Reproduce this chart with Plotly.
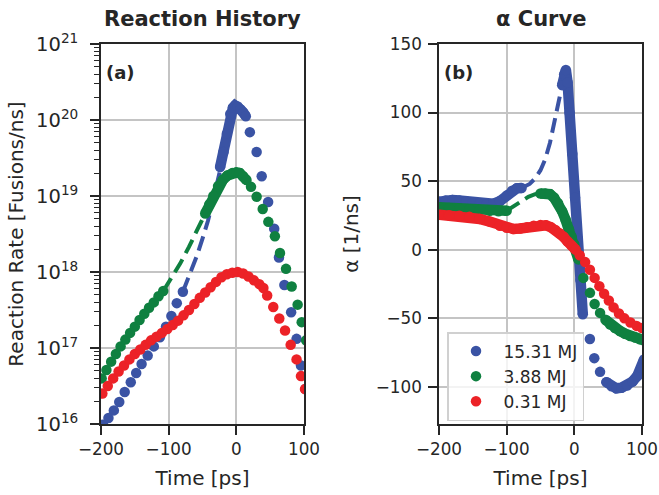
import plotly.graph_objects as go

# ---------------- DATA ----------------
# Left panel: reaction rate [fusions/ns] vs time [ps]
blue_pre_t = [-197, -189, -181, -173, -165, -156, -148, -140, -131, -122, -113, -104, -96, -88, -79]
blue_pre_v = [9.8e15, 1.20e16, 1.51e16, 1.95e16, 2.63e16, 3.55e16, 4.68e16, 6.17e16, 7.94e16, 1.05e17,
              1.38e17, 1.91e17, 2.63e17, 3.89e17, 5.50e17]
blue_dash_t = [-79, -66, -58, -50, -42, -35, -28, -21]
blue_dash_v = [5.50e17, 1.05e18, 1.66e18, 2.75e18, 4.68e18, 8.32e18, 1.48e19, 2.82e19]
blue_peak_t = [-24, -19, -14, -9, -5, -2, 2, 6, 10, 14]
blue_peak_v = [2.40e19, 3.80e19, 6.61e19, 1.20e20, 1.45e20, 1.55e20, 1.51e20, 1.38e20, 1.26e20, 1.12e20]
blue_post_t = [20, 30, 37.5, 47, 56, 63, 71, 81, 89, 95.5, 102]
blue_post_v = [6.92e19, 3.80e19, 1.82e19, 8.32e18, 3.72e18, 1.55e18, 6.76e17, 2.95e17, 1.32e17, 5.89e16, 2.88e16]

green_pre_t = [-199, -192, -185, -178, -171, -164, -157, -150, -143, -136, -129, -122, -115, -108]
green_pre_v = [3.98e16, 5.13e16, 6.61e16, 8.32e16, 1.05e17, 1.29e17, 1.58e17, 1.91e17, 2.34e17, 2.82e17,
               3.39e17, 3.98e17, 4.79e17, 5.62e17]
green_dash_t = [-108, -95, -83, -70, -58, -46]
green_dash_v = [5.62e17, 8.51e17, 1.29e18, 2.14e18, 3.55e18, 5.89e18]
green_peak_t = [-46, -40, -34, -27, -20, -13, -6, 0, 5, 10, 15]
green_peak_v = [5.89e18, 7.76e18, 1.0e19, 1.35e19, 1.62e19, 1.86e19, 2.0e19, 2.04e19, 2.0e19, 1.82e19, 1.62e19]
green_post_t = [21.7, 30, 39, 47.3, 57, 64.5, 73.4, 81.8, 90.6, 96.6, 103]
green_post_v = [1.32e19, 9.77e18, 6.76e18, 4.57e18, 2.95e18, 1.78e18, 1.10e18, 6.46e17, 3.72e17, 2.19e17, 1.26e17]

red_main_t = [-198, -190, -182, -174, -166, -158, -150, -142, -134, -126, -118, -110, -102, -94, -86,
              -78, -70, -62, -54, -46, -38, -30, -22, -14, -6, 2, 10, 18, 26, 34, 40]
red_main_v = [2.51e16, 3.16e16, 3.98e16, 4.90e16, 5.89e16, 7.08e16, 8.32e16, 9.55e16, 1.10e17, 1.26e17,
              1.41e17, 1.58e17, 1.78e17, 2.0e17, 2.29e17, 2.69e17, 3.16e17, 3.80e17, 4.57e17, 5.37e17,
              6.31e17, 7.41e17, 8.51e17, 9.33e17, 9.77e17, 1.0e18, 9.55e17, 8.71e17, 7.76e17, 6.92e17, 6.17e17]
red_post_t = [45.6, 54.6, 63.5, 72, 80.3, 89, 95.5, 101.5]
red_post_v = [4.90e17, 3.47e17, 2.45e17, 1.70e17, 1.10e17, 7.08e16, 4.27e16, 2.88e16]

# Right panel: alpha [1/ns] vs time [ps]
blue_a1_t = [-200, -190, -180, -170, -160, -150, -140, -130, -120, -110, -100, -92, -85, -78]
blue_a1_v = [35, 36, 36.3, 36, 35.3, 34.3, 33.5, 33, 33.5, 35.5, 39.5, 43, 44.8, 45]
blue_adash_t = [-78, -66, -58, -50, -43, -36, -30, -24, -18]
blue_adash_v = [45, 48, 52, 58, 66, 78, 92, 107, 120]
blue_a2_t = [-18, -15, -12.5, -10, -7, -3, 1, 5, 9, 12.5]
blue_a2_v = [120, 128, 131, 122, 100, 70, 38, 8, -22, -47]
blue_asp_t = [23, 29.5, 38, 47.5]
blue_asp_v = [-65, -79, -89, -96.5]
blue_a3_t = [47.5, 55, 62, 70, 78, 86, 93, 99, 103]
blue_a3_v = [-96.5, -99.5, -101, -100.5, -99, -96, -92, -86, -80]

green_a1_t = [-200, -185, -170, -155, -140, -125, -112, -100]
green_a1_v = [31, 30.5, 30, 29.5, 29, 28.5, 28, 28.5]
green_adash_t = [-100, -88, -78, -68, -58, -50]
green_adash_v = [28.5, 32.6, 36, 38.6, 40.5, 41]
green_a2_t = [-50, -43, -36, -30, -24, -18, -13, -8, -4, 0, 3, 6]
green_a2_v = [41, 41, 40.5, 38, 34, 28, 22, 15, 9.5, 4, -1.5, -7]
green_asp_t = [13.3, 23.1, 30, 38]
green_asp_v = [-20.5, -31.4, -39.5, -46]
green_a3_t = [46, 53, 60, 67.5, 75, 82.5, 90, 97, 103]
green_a3_v = [-51, -54.5, -57, -59.2, -61.2, -62.8, -64, -65.2, -66]

red_a1_t = [-200, -185, -170, -155, -140, -125, -110, -100, -90, -80, -70, -60, -50, -42, -35, -28,
            -22, -16, -10, -4, 2]
red_a1_v = [25.5, 25.2, 24.8, 24, 22.5, 20.5, 17.5, 16, 15.2, 15.5, 16.5, 17.5, 18, 17.8, 16.5, 14.5,
            12, 9.5, 6, 3, 0]
red_asp_t = [8, 16, 23, 30, 37, 44, 51, 58, 66, 74, 83, 92, 100]
red_asp_v = [-4, -9, -14.5, -20.5, -26.5, -32, -37, -42, -46.5, -50, -53, -55.5, -57]

labels = ["15.31 MJ", "3.88 MJ", "0.31 MJ"]
left_ticks = [1e16, 1e17, 1e18, 1e19, 1e20, 1e21]
left_ticktext = ["10<sup>16</sup>", "10<sup>17</sup>", "10<sup>18</sup>", "10<sup>19</sup>",
                 "10<sup>20</sup>", "10<sup>21</sup>"]
left_minor = [m * d for d in [1e16, 1e17, 1e18, 1e19, 1e20] for m in [2.0, 3.0, 4.0, 5.0, 6.0, 7.0, 8.0, 9.0]]
right_ticks = [-100, -50, 0, 50, 100, 150]
time_ticks = [-200, -100, 0, 100]

# ---------------- STYLE ----------------
BLUE, GREEN, RED = "#3a53a4", "#0f8040", "#ec2227"
INK = "#262626"
GRID = "#c4c4c4"
FONT = "DejaVu Sans"
MS = 10.5

fig = go.Figure()


def dots(t, v, color, xa, ya):
    fig.add_trace(go.Scatter(x=t, y=v, mode="markers", xaxis=xa, yaxis=ya,
                             marker=dict(color=color, size=MS), showlegend=False, hoverinfo="skip"))


def band(t, v, color, xa, ya):
    fig.add_trace(go.Scatter(x=t, y=v, mode="lines+markers", xaxis=xa, yaxis=ya,
                             line=dict(color=color, width=MS),
                             marker=dict(color=color, size=MS), showlegend=False, hoverinfo="skip"))


def dashed(t, v, color, xa, ya):
    fig.add_trace(go.Scatter(x=t, y=v, mode="lines", xaxis=xa, yaxis=ya,
                             line=dict(color=color, width=4, dash="15px,7px"),
                             showlegend=False, hoverinfo="skip"))


# Left panel
dots(blue_pre_t, blue_pre_v, BLUE, "x", "y")
dashed(blue_dash_t, blue_dash_v, BLUE, "x", "y")
band(blue_peak_t, blue_peak_v, BLUE, "x", "y")
dots(blue_post_t, blue_post_v, BLUE, "x", "y")

dots(green_pre_t, green_pre_v, GREEN, "x", "y")
dashed(green_dash_t, green_dash_v, GREEN, "x", "y")
band(green_peak_t, green_peak_v, GREEN, "x", "y")
dots(green_post_t, green_post_v, GREEN, "x", "y")

dots(red_main_t, red_main_v, RED, "x", "y")
dots(red_post_t, red_post_v, RED, "x", "y")

# Right panel
band(blue_a1_t, blue_a1_v, BLUE, "x2", "y2")
dashed(blue_adash_t, blue_adash_v, BLUE, "x2", "y2")
band(blue_a2_t, blue_a2_v, BLUE, "x2", "y2")
dots(blue_asp_t, blue_asp_v, BLUE, "x2", "y2")
band(blue_a3_t, blue_a3_v, BLUE, "x2", "y2")

band(green_a1_t, green_a1_v, GREEN, "x2", "y2")
dashed(green_adash_t, green_adash_v, GREEN, "x2", "y2")
band(green_a2_t, green_a2_v, GREEN, "x2", "y2")
dots(green_asp_t, green_asp_v, GREEN, "x2", "y2")
band(green_a3_t, green_a3_v, GREEN, "x2", "y2")

band(red_a1_t, red_a1_v, RED, "x2", "y2")
dots(red_asp_t, red_asp_v, RED, "x2", "y2")

# legend entries
for lab, col in zip(labels, [BLUE, GREEN, RED]):
    fig.add_trace(go.Scatter(x=[None], y=[None], mode="markers", xaxis="x2", yaxis="y2",
                             marker=dict(color=col, size=MS), name=lab, showlegend=True))

W, H = 659, 495
def px_x(p):
    return p / W
def px_y(p):
    return 1 - p / H

axis_common = dict(showline=True, mirror=True, linecolor=INK, linewidth=1.6,
                   ticks="outside", ticklen=9, tickwidth=1.5, tickcolor=INK,
                   showgrid=True, gridcolor=GRID, gridwidth=1.6, zeroline=False,
                   automargin=False)
tf = dict(family=FONT, size=16.8, color=INK)

xdom1 = [px_x(101), px_x(304)]
xdom2 = [px_x(439), px_x(642)]
ydom = [px_y(424), px_y(44)]

fig.update_layout(
    width=W, height=H, margin=dict(l=0, r=0, t=0, b=0, autoexpand=False),
    paper_bgcolor="white", plot_bgcolor="white",
    font=dict(family=FONT, color=INK),
    xaxis=dict(domain=xdom1, range=[-200, 100], tickvals=time_ticks, anchor="y", tickfont=tf,
               title=dict(text="Time [ps]", font=dict(size=20, family=FONT, color=INK), standoff=13),
               **axis_common),
    yaxis=dict(domain=ydom, type="log", range=[16, 21], tickvals=left_ticks, ticktext=left_ticktext,
               anchor="x", tickfont=dict(family=FONT, size=19.5, color=INK), ticklabelstandoff=8,
               minor=dict(tickmode="array", tickvals=left_minor, ticks="outside", ticklen=5,
                          tickwidth=1.2, tickcolor=INK, showgrid=False),
               title=dict(text="Reaction Rate [Fusions/ns]", font=dict(size=20, family=FONT, color=INK),
                          standoff=7),
               **axis_common),
    xaxis2=dict(domain=xdom2, range=[-200, 100], tickvals=time_ticks, anchor="y2", tickfont=tf,
                title=dict(text="Time [ps]", font=dict(size=20, family=FONT, color=INK), standoff=13),
                **axis_common),
    yaxis2=dict(domain=ydom, range=[-127, 150], tickvals=right_ticks, anchor="x2", tickfont=tf,
                ticklabelstandoff=3,
                title=dict(text="α [1/ns]", font=dict(size=20, family=FONT, color=INK), standoff=12),
                **axis_common),
    legend=dict(x=px_x(447), y=px_y(332), xanchor="left", yanchor="top",
                bgcolor="rgba(255,255,255,0.8)", bordercolor="#d0d0d0", borderwidth=1.5,
                font=dict(family=FONT, size=17, color=INK), itemwidth=45),
    annotations=[
        dict(text="<b>Reaction History</b>", x=px_x(202.5), y=px_y(19), xref="paper", yref="paper",
             showarrow=False, font=dict(family=FONT, size=21, color=INK), xanchor="center", yanchor="middle",
             height=20, valign="middle"),
        dict(text="<b>α Curve</b>", x=px_x(540.5), y=px_y(19), xref="paper", yref="paper",
             showarrow=False, font=dict(family=FONT, size=21, color=INK), xanchor="center", yanchor="middle",
             height=20, valign="middle"),
        dict(text="<b>(a)</b>", x=px_x(104), y=px_y(72), xref="paper", yref="paper",
             showarrow=False, font=dict(family=FONT, size=18, color=INK), xanchor="left", yanchor="middle"),
        dict(text="<b>(b)</b>", x=px_x(442), y=px_y(72), xref="paper", yref="paper",
             showarrow=False, font=dict(family=FONT, size=18, color=INK), xanchor="left", yanchor="middle"),
    ],
)

# remove the page's default body margin so the 659x495 figure fills the window exactly
fig.write_html("out.html", config={"displayModeBar": False},
               post_script="document.body.style.margin='0';document.body.style.overflow='hidden';")
